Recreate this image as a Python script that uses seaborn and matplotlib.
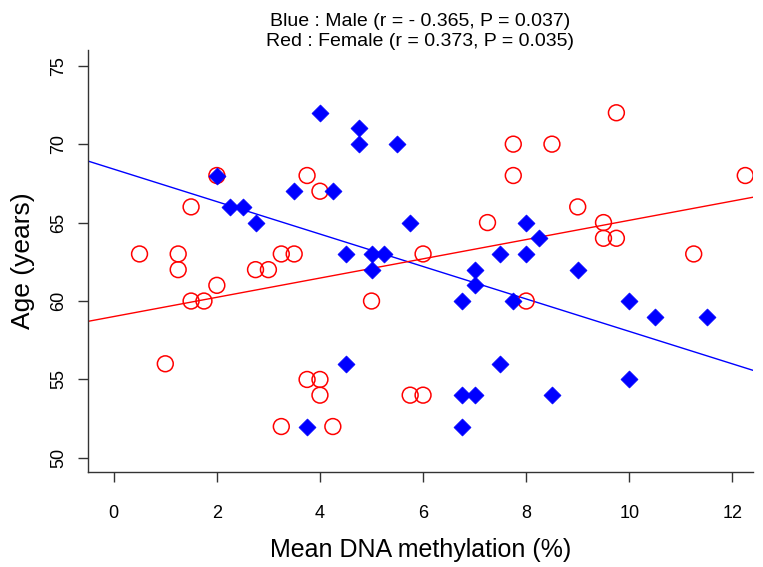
import numpy as np
import pandas as pd
import matplotlib
matplotlib.use("Agg")
import matplotlib.pyplot as plt
import seaborn as sns

# mean DNA methylation (%) and age (years)
male_meth = [2, 2.25, 2.5, 2.75, 3.5, 3.75, 4, 4.25, 4.5, 4.5, 4.75, 4.75,
             5, 5, 5.25, 5.5, 5.75, 6.75, 6.75, 6.75, 7, 7, 7, 7.5, 7.5,
             7.75, 8, 8, 8.25, 8.5, 9, 10, 10, 10.5, 11.5]
male_age = [68, 66, 66, 65, 67, 52, 72, 67, 63, 56, 71, 70,
            63, 62, 63, 70, 65, 60, 54, 52, 62, 61, 54, 63, 56,
            60, 65, 63, 64, 54, 62, 60, 55, 59, 59]

female_meth = [0.5, 1, 1.25, 1.25, 1.5, 1.5, 1.75, 2, 2, 2.75, 3, 3.25,
               3.5, 3.25, 3.75, 3.75, 4, 4, 4, 4.25, 5, 5.75, 6, 6,
               7.25, 7.75, 7.75, 8, 8.5, 9, 9.5, 9.5, 9.75, 9.75, 11.25, 12.25]
female_age = [63, 56, 63, 62, 66, 60, 60, 68, 61, 62, 62, 63,
              63, 52, 68, 55, 67, 55, 54, 52, 60, 54, 54, 63,
              65, 70, 68, 60, 70, 66, 65, 64, 64, 72, 63, 68]

title_lines = ["Blue : Male (r = - 0.365, P = 0.037)",
               "Red : Female (r = 0.373, P = 0.035)"]

male = pd.DataFrame({"meth": male_meth, "age": male_age})
female = pd.DataFrame({"meth": female_meth, "age": female_age})

sns.set_style("ticks")
plt.rcParams["font.family"] = ["Liberation Sans", "DejaVu Sans"]
plt.rcParams["text.color"] = "black"
plt.rcParams["axes.labelcolor"] = "black"
plt.rcParams["xtick.color"] = "#333333"
plt.rcParams["ytick.color"] = "#333333"
plt.rcParams["xtick.labelcolor"] = "black"
plt.rcParams["ytick.labelcolor"] = "black"

fig = plt.figure(figsize=(7.63, 5.67), dpi=100)
ax = fig.add_axes([0.1153, 0.1675, 0.8716, 0.7443])
ax.set_xlim(-0.5, 12.4)
ax.set_ylim(49.1, 76.0)

sns.scatterplot(data=female, x="meth", y="age", ax=ax, marker="o", s=130,
                facecolors="none", edgecolors="#FF0000", linewidths=1.1,
                zorder=3)
sns.scatterplot(data=male, x="meth", y="age", ax=ax, marker="D", s=75,
                color="#0000FF", edgecolor="#0000FF", linewidth=0.5,
                zorder=4)

sns.regplot(data=male, x="meth", y="age", ax=ax, scatter=False, ci=None,
            truncate=False, line_kws={"color": "#0000FF", "lw": 1.0, "zorder": 2})
sns.regplot(data=female, x="meth", y="age", ax=ax, scatter=False, ci=None,
            truncate=False, line_kws={"color": "#FF0000", "lw": 1.0, "zorder": 2})
ax.set_xlim(-0.5, 12.4)
ax.set_ylim(49.1, 76.0)

ax.set_xticks(np.arange(0, 13, 2))
ax.set_yticks(np.arange(50, 76, 5))
ax.tick_params(axis="both", direction="out", length=7.5, width=1, labelsize=13)
ax.tick_params(axis="x", pad=16.5)
ax.tick_params(axis="y", pad=7.5)
for lbl in ax.get_yticklabels():
    lbl.set_rotation(90)
    lbl.set_va("center")

for side in ["left", "bottom"]:
    ax.spines[side].set_color("#333333")
    ax.spines[side].set_linewidth(1)
sns.despine(ax=ax)

ax.set_xlabel("Mean DNA methylation (%)", fontsize=18, labelpad=11)
ax.set_ylabel("Age (years)", fontsize=19, labelpad=11)
ax.set_title("\n".join(title_lines), fontsize=14, pad=2, linespacing=1.25)

fig.savefig("out.png", dpi=100)
